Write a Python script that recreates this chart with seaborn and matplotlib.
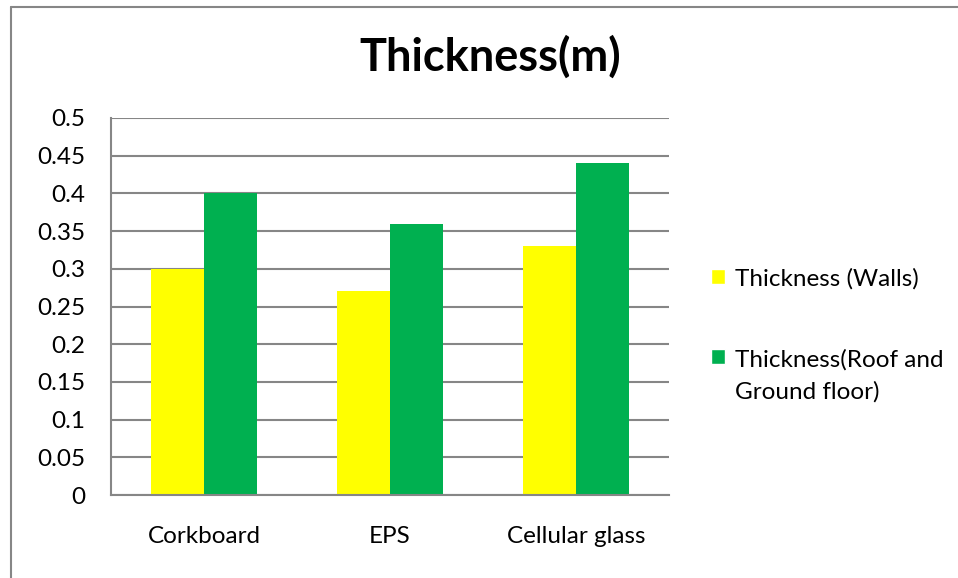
import matplotlib
matplotlib.use("Agg")
import matplotlib.pyplot as plt
import matplotlib.patches as mpatches
from matplotlib.legend_handler import HandlerPatch
import seaborn as sns
import pandas as pd
from matplotlib.lines import Line2D

categories = ["Corkboard", "EPS", "Cellular glass"]
walls = [0.30, 0.27, 0.33]
roof_ground = [0.40, 0.36, 0.44]
series_names = ["Thickness (Walls)", "Thickness(Roof and\nGround floor)"]
yticks = [0, 0.05, 0.1, 0.15, 0.2, 0.25, 0.3, 0.35, 0.4, 0.45, 0.5]
ytick_labels = ["0", "0.05", "0.1", "0.15", "0.2", "0.25", "0.3", "0.35", "0.4", "0.45", "0.5"]
colors = ["#FFFF00", "#00B050"]

df = pd.DataFrame({
    "category": categories * 2,
    "value": walls + roof_ground,
    "series": [series_names[0]] * 3 + [series_names[1]] * 3,
})

sns.set_theme(style="white")
plt.rcParams["font.family"] = ["Lato", "DejaVu Sans"]
plt.rcParams["text.color"] = "black"
plt.rcParams["xtick.color"] = "black"
plt.rcParams["ytick.color"] = "black"

FS = 17.5

fig = plt.figure(figsize=(9.58, 5.78), dpi=100)
ax = fig.add_axes([111 / 958, 1 - 495 / 578, 558 / 958, 377 / 578])

sns.barplot(data=df, x="category", y="value", hue="series", palette=colors,
            width=0.57, ax=ax, saturation=1, errorbar=None, legend=False, linewidth=0)

ax.set_ylim(0, 0.5)
ax.set_xlim(-0.5, 2.5)
ax.set_yticks(yticks)
ax.set_yticklabels(ytick_labels)
ax.set_xlabel("")
ax.set_ylabel("")
ax.yaxis.grid(True, color="#868686", linewidth=1.5)
ax.set_axisbelow(True)
for s in ["top", "right"]:
    ax.spines[s].set_visible(False)
for s in ["left", "bottom"]:
    ax.spines[s].set_color("#868686")
    ax.spines[s].set_linewidth(1.5)
ax.tick_params(axis="y", length=0, pad=18.5, labelsize=FS)
ax.tick_params(axis="x", length=0, pad=22, labelsize=FS)


def top_aligned_patch(legend, orig_handle, xdescent, ydescent, width, height, fontsize):
    dy = 0.0
    if "\n" in orig_handle.get_label():
        dy = 0.78 * fontsize
    return mpatches.Rectangle((-xdescent, -ydescent + dy), width, height)


handles = [mpatches.Patch(facecolor=c, label=n) for c, n in zip(colors, series_names)]
leg = ax.legend(handles=handles, loc="center left", bbox_to_anchor=(699 / 958, 1 - 335 / 578),
                bbox_transform=fig.transFigure, frameon=False, fontsize=FS, borderpad=0,
                handlelength=0.58, handleheight=0.58, handletextpad=0.4, labelspacing=2.47,
                handler_map={mpatches.Patch: HandlerPatch(patch_func=top_aligned_patch)})
for t in leg.get_texts():
    t.set_linespacing(1.55)

fig.text(490 / 958, 1 - 57 / 578, "Thickness(m)", ha="center", va="center",
         fontsize=32.5, fontweight="bold")

fig.add_artist(Line2D([10.5 / 958, 10.5 / 958], [0, 1 - 6.5 / 578], transform=fig.transFigure,
                      color="#868686", linewidth=1.5))
fig.add_artist(Line2D([10.5 / 958, 1], [1 - 6.5 / 578, 1 - 6.5 / 578], transform=fig.transFigure,
                      color="#868686", linewidth=1.5))

fig.savefig("out.png", dpi=100)
